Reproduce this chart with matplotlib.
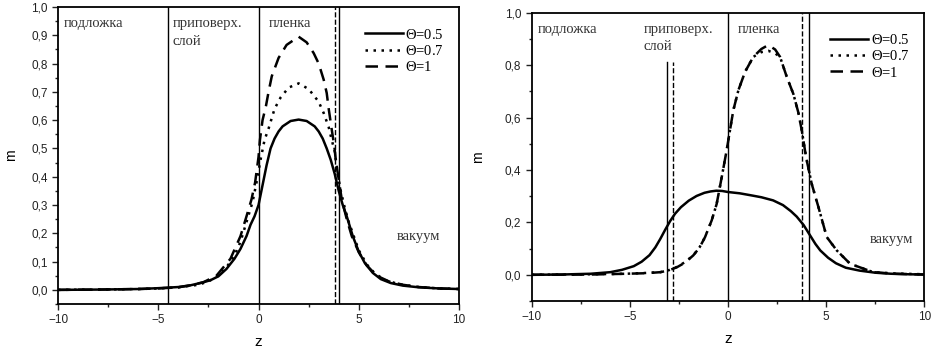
import matplotlib
matplotlib.use("Agg")
from matplotlib import pyplot as plt
from matplotlib.ticker import MultipleLocator, FuncFormatter

# левая панель: профили m(z)
z_a05 = [-10, -8, -6, -5, -4, -3.4, -2.8, -2.4, -2.0, -1.6, -1.2, -0.9, -0.6,
         -0.4, -0.2, 0.0, 0.2, 0.4, 0.6, 0.8, 1.0, 1.2, 1.6, 2.0, 2.4, 2.8,
         3.0, 3.2, 3.4, 3.6, 3.8, 4.0, 4.2, 4.4, 4.7, 5.0, 5.3, 5.7, 6.1,
         6.6, 7.2, 8.0, 9.0, 10]
m_a05 = [0.0, 0.001, 0.003, 0.006, 0.010, 0.016, 0.026, 0.034, 0.048, 0.074,
         0.11, 0.145, 0.19, 0.23, 0.26, 0.30, 0.37, 0.44, 0.50, 0.535, 0.56,
         0.578, 0.597, 0.602, 0.597, 0.578, 0.56, 0.535, 0.50, 0.46, 0.41,
         0.35, 0.30, 0.26, 0.19, 0.135, 0.095, 0.06, 0.038, 0.024, 0.015,
         0.009, 0.005, 0.003]

z_a07 = [-10, -8, -6, -5, -4, -3, -2.5, -2.0, -1.6, -1.2, -0.9, -0.6, -0.3,
         -0.1, 0.1, 0.3, 0.5, 0.8, 1.1, 1.5, 2.0, 2.5, 3.0, 3.25, 3.5, 3.65,
         3.8, 3.95, 4.1, 4.3, 4.5, 4.7, 5.0, 5.4, 5.8, 6.3, 7.0, 8.0, 9.0, 10]
m_a07 = [0.0, 0.001, 0.003, 0.005, 0.009, 0.018, 0.03, 0.05, 0.08, 0.12,
         0.17, 0.24, 0.31, 0.38, 0.46, 0.53, 0.57, 0.64, 0.68, 0.715, 0.73,
         0.71, 0.665, 0.625, 0.575, 0.53, 0.49, 0.41, 0.35, 0.29, 0.24, 0.2,
         0.14, 0.09, 0.058, 0.035, 0.02, 0.01, 0.005, 0.003]

z_a1 = [-10, -8, -6, -5, -4, -3.4, -2.75, -2.1, -1.4, -0.9, -0.6, -0.35,
        -0.17, 0.0, 0.07, 0.2, 0.37, 0.5, 0.66, 1.0, 1.4, 2.0, 2.4, 2.75,
        3.0, 3.25, 3.4, 3.5, 3.65, 3.78, 3.85, 4.0, 4.15, 4.4, 4.65, 5.0,
        5.4, 5.9, 6.5, 7.2, 8.0, 9.0, 10]
m_a1 = [0.0, 0.001, 0.003, 0.005, 0.009, 0.016, 0.027, 0.05, 0.11, 0.19,
        0.26, 0.32, 0.38, 0.47, 0.53, 0.60, 0.65, 0.70, 0.755, 0.82, 0.866,
        0.895, 0.875, 0.837, 0.80, 0.743, 0.696, 0.64, 0.567, 0.508, 0.46,
        0.39, 0.32, 0.25, 0.19, 0.133, 0.086, 0.05, 0.03, 0.018, 0.01, 0.005,
        0.003]

# правая панель
z_b05 = [-10, -8.5, -7, -6, -5.4, -4.8, -4.4, -4.0, -3.7, -3.45, -3.2, -2.95,
         -2.7, -2.4, -2.0, -1.6, -1.2, -0.9, -0.6, -0.3, 0.0, 0.6, 1.2, 1.7,
         2.3, 2.8, 3.2, 3.5, 3.85, 4.2, 4.45, 4.7, 5.1, 5.5, 6.0, 6.7, 7.5,
         8.3, 9.2, 10]
m_b05 = [0.0, 0.001, 0.004, 0.01, 0.019, 0.033, 0.05, 0.075, 0.105, 0.137,
         0.172, 0.205, 0.233, 0.258, 0.283, 0.301, 0.313, 0.318, 0.321, 0.32,
         0.316, 0.311, 0.303, 0.296, 0.284, 0.266, 0.243, 0.222, 0.19, 0.148,
         0.118, 0.093, 0.065, 0.044, 0.027, 0.016, 0.008, 0.004, 0.002, 0.001]

z_b07 = [-10, -7, -5.2, -4.2, -3.45, -3.0, -2.6, -2.2, -1.77, -1.45, -1.17,
         -0.83, -0.58, -0.32, -0.07, 0.1, 0.27, 0.53, 0.87, 1.29, 1.7, 2.05,
         2.4, 2.65, 2.99, 3.33, 3.58, 3.76, 3.92, 4.01, 4.26, 4.6, 5.03, 5.54,
         6.22, 7.4, 8.5, 10]
m_b07 = [0.0, 0.002, 0.004, 0.007, 0.01, 0.018, 0.03, 0.048, 0.074, 0.105,
         0.144, 0.208, 0.27, 0.373, 0.475, 0.552, 0.628, 0.705, 0.775, 0.832,
         0.85, 0.855, 0.845, 0.832, 0.756, 0.69, 0.62, 0.55, 0.475, 0.437,
         0.348, 0.26, 0.144, 0.093, 0.042, 0.01, 0.005, 0.002]

z_b1 = [-10, -7, -5.2, -4.2, -3.45, -3.0, -2.6, -2.2, -1.77, -1.45, -1.17,
        -0.83, -0.58, -0.32, -0.07, 0.1, 0.27, 0.53, 0.87, 1.29, 1.7, 2.05,
        2.4, 2.65, 2.99, 3.33, 3.58, 3.76, 3.92, 4.01, 4.26, 4.6, 5.03, 5.54,
        6.22, 7.4, 8.5, 10]
m_b1 = [0.0, 0.001, 0.004, 0.006, 0.01, 0.017, 0.029, 0.046, 0.074, 0.104,
        0.144, 0.208, 0.27, 0.373, 0.475, 0.552, 0.628, 0.705, 0.775, 0.832,
        0.862, 0.877, 0.86, 0.832, 0.756, 0.69, 0.62, 0.55, 0.475, 0.437,
        0.348, 0.26, 0.144, 0.093, 0.042, 0.01, 0.004, 0.001]

# границы слоёв: (z, стиль, верх в долях оси)
bounds_a = [(-4.5, '-', 1.0), (0.0, '-', 1.0), (3.8, '--', 1.0), (4.0, '-', 1.0)]
bounds_b = [(-3.1, '-', 0.83), (-2.8, '--', 0.83), (0.0, '-', 1.0),
            (3.75, '--', 1.0), (4.15, '-', 1.0)]

labels = [r"$\Theta$=0.5", r"$\Theta$=0.7", r"$\Theta$=1"]
styles = ['-', (0, (1, 2.2)), (0, (5, 3))]

plt.rcParams['font.family'] = ['Liberation Sans', 'DejaVu Sans']
plt.rcParams['mathtext.fontset'] = 'custom'
plt.rcParams['mathtext.rm'] = 'Liberation Serif'
plt.rcParams['mathtext.it'] = 'Liberation Serif'
serif = ['Liberation Serif', 'DejaVu Serif']

fig = plt.figure(figsize=(9.33, 3.5), dpi=100)
ax1 = fig.add_axes([0.0622, 0.1314, 0.4298, 0.8486])
ax2 = fig.add_axes([0.5699, 0.14, 0.4208, 0.8234])

comma = FuncFormatter(lambda v, p: ("%.1f" % v).replace('.', ','))


def setup(ax, ylim, ymaj, ymin, mx):
    ax.set_xlim(-10, 10)
    ax.set_ylim(*ylim)
    ax.xaxis.set_major_locator(MultipleLocator(5))
    ax.xaxis.set_minor_locator(MultipleLocator(2.5))
    ax.yaxis.set_major_locator(MultipleLocator(ymaj))
    ax.yaxis.set_minor_locator(MultipleLocator(ymin))
    ax.yaxis.set_major_formatter(comma)
    ax.tick_params(which='both', direction='out', top=False, right=False,
                   labelsize=8.5, width=1.0, colors='#222222')
    ax.tick_params(which='major', length=4)
    ax.tick_params(which='minor', length=2.5)
    for s in ax.spines.values():
        s.set_linewidth(1.3)
    ax.set_xlabel("z", fontsize=11, labelpad=6)
    ax.set_ylabel("m", fontsize=10)
    ax.yaxis.set_label_coords(mx, 0.5)


setup(ax1, (-0.05, 1.0), 0.1, 0.05, -0.1)
setup(ax2, (-0.1, 1.0), 0.2, 0.1, -0.12)

for (zb, ls, top) in bounds_a:
    ax1.axvline(zb, ymax=top, color='black', ls=ls, lw=1.0)
for (zb, ls, top) in bounds_b:
    ax2.axvline(zb, ymax=top, color='black', ls=ls, lw=1.0)

for z, m, ls, lab in zip([z_a05, z_a07, z_a1], [m_a05, m_a07, m_a1], styles, labels):
    ax1.plot(z, m, color='black', ls=ls, lw=1.8, label=lab)
for z, m, ls, lab in zip([z_b05, z_b07, z_b1], [m_b05, m_b07, m_b1], styles, labels):
    ax2.plot(z, m, color='black', ls=ls, lw=1.8, label=lab)

for ax in (ax1, ax2):
    leg = ax.legend(loc='upper right', bbox_to_anchor=(0.995, 0.975),
                    frameon=False, handlelength=2.6,
                    handletextpad=0.15, labelspacing=0.15,
                    prop={'family': serif, 'size': 10.5})
    ax.text(0.015, 0.965, "подложка", transform=ax.transAxes, va='top',
            family=serif, fontsize=10.5, color='#333333')
    ax.text(0.285, 0.965, "приповерх.\nслой", transform=ax.transAxes,
            va='top', family=serif, fontsize=10.5, color='#333333',
            linespacing=1.45)
    ax.text(0.525, 0.965, "пленка", transform=ax.transAxes, va='top',
            family=serif, fontsize=10.5, color='#333333')

ax1.text(0.845, 0.215, "вакуум", transform=ax1.transAxes, family=serif,
         fontsize=10.5, color='#333333')
ax2.text(0.86, 0.2, "вакуум", transform=ax2.transAxes, family=serif,
         fontsize=10.5, color='#333333')

fig.savefig("out.png", dpi=100)
